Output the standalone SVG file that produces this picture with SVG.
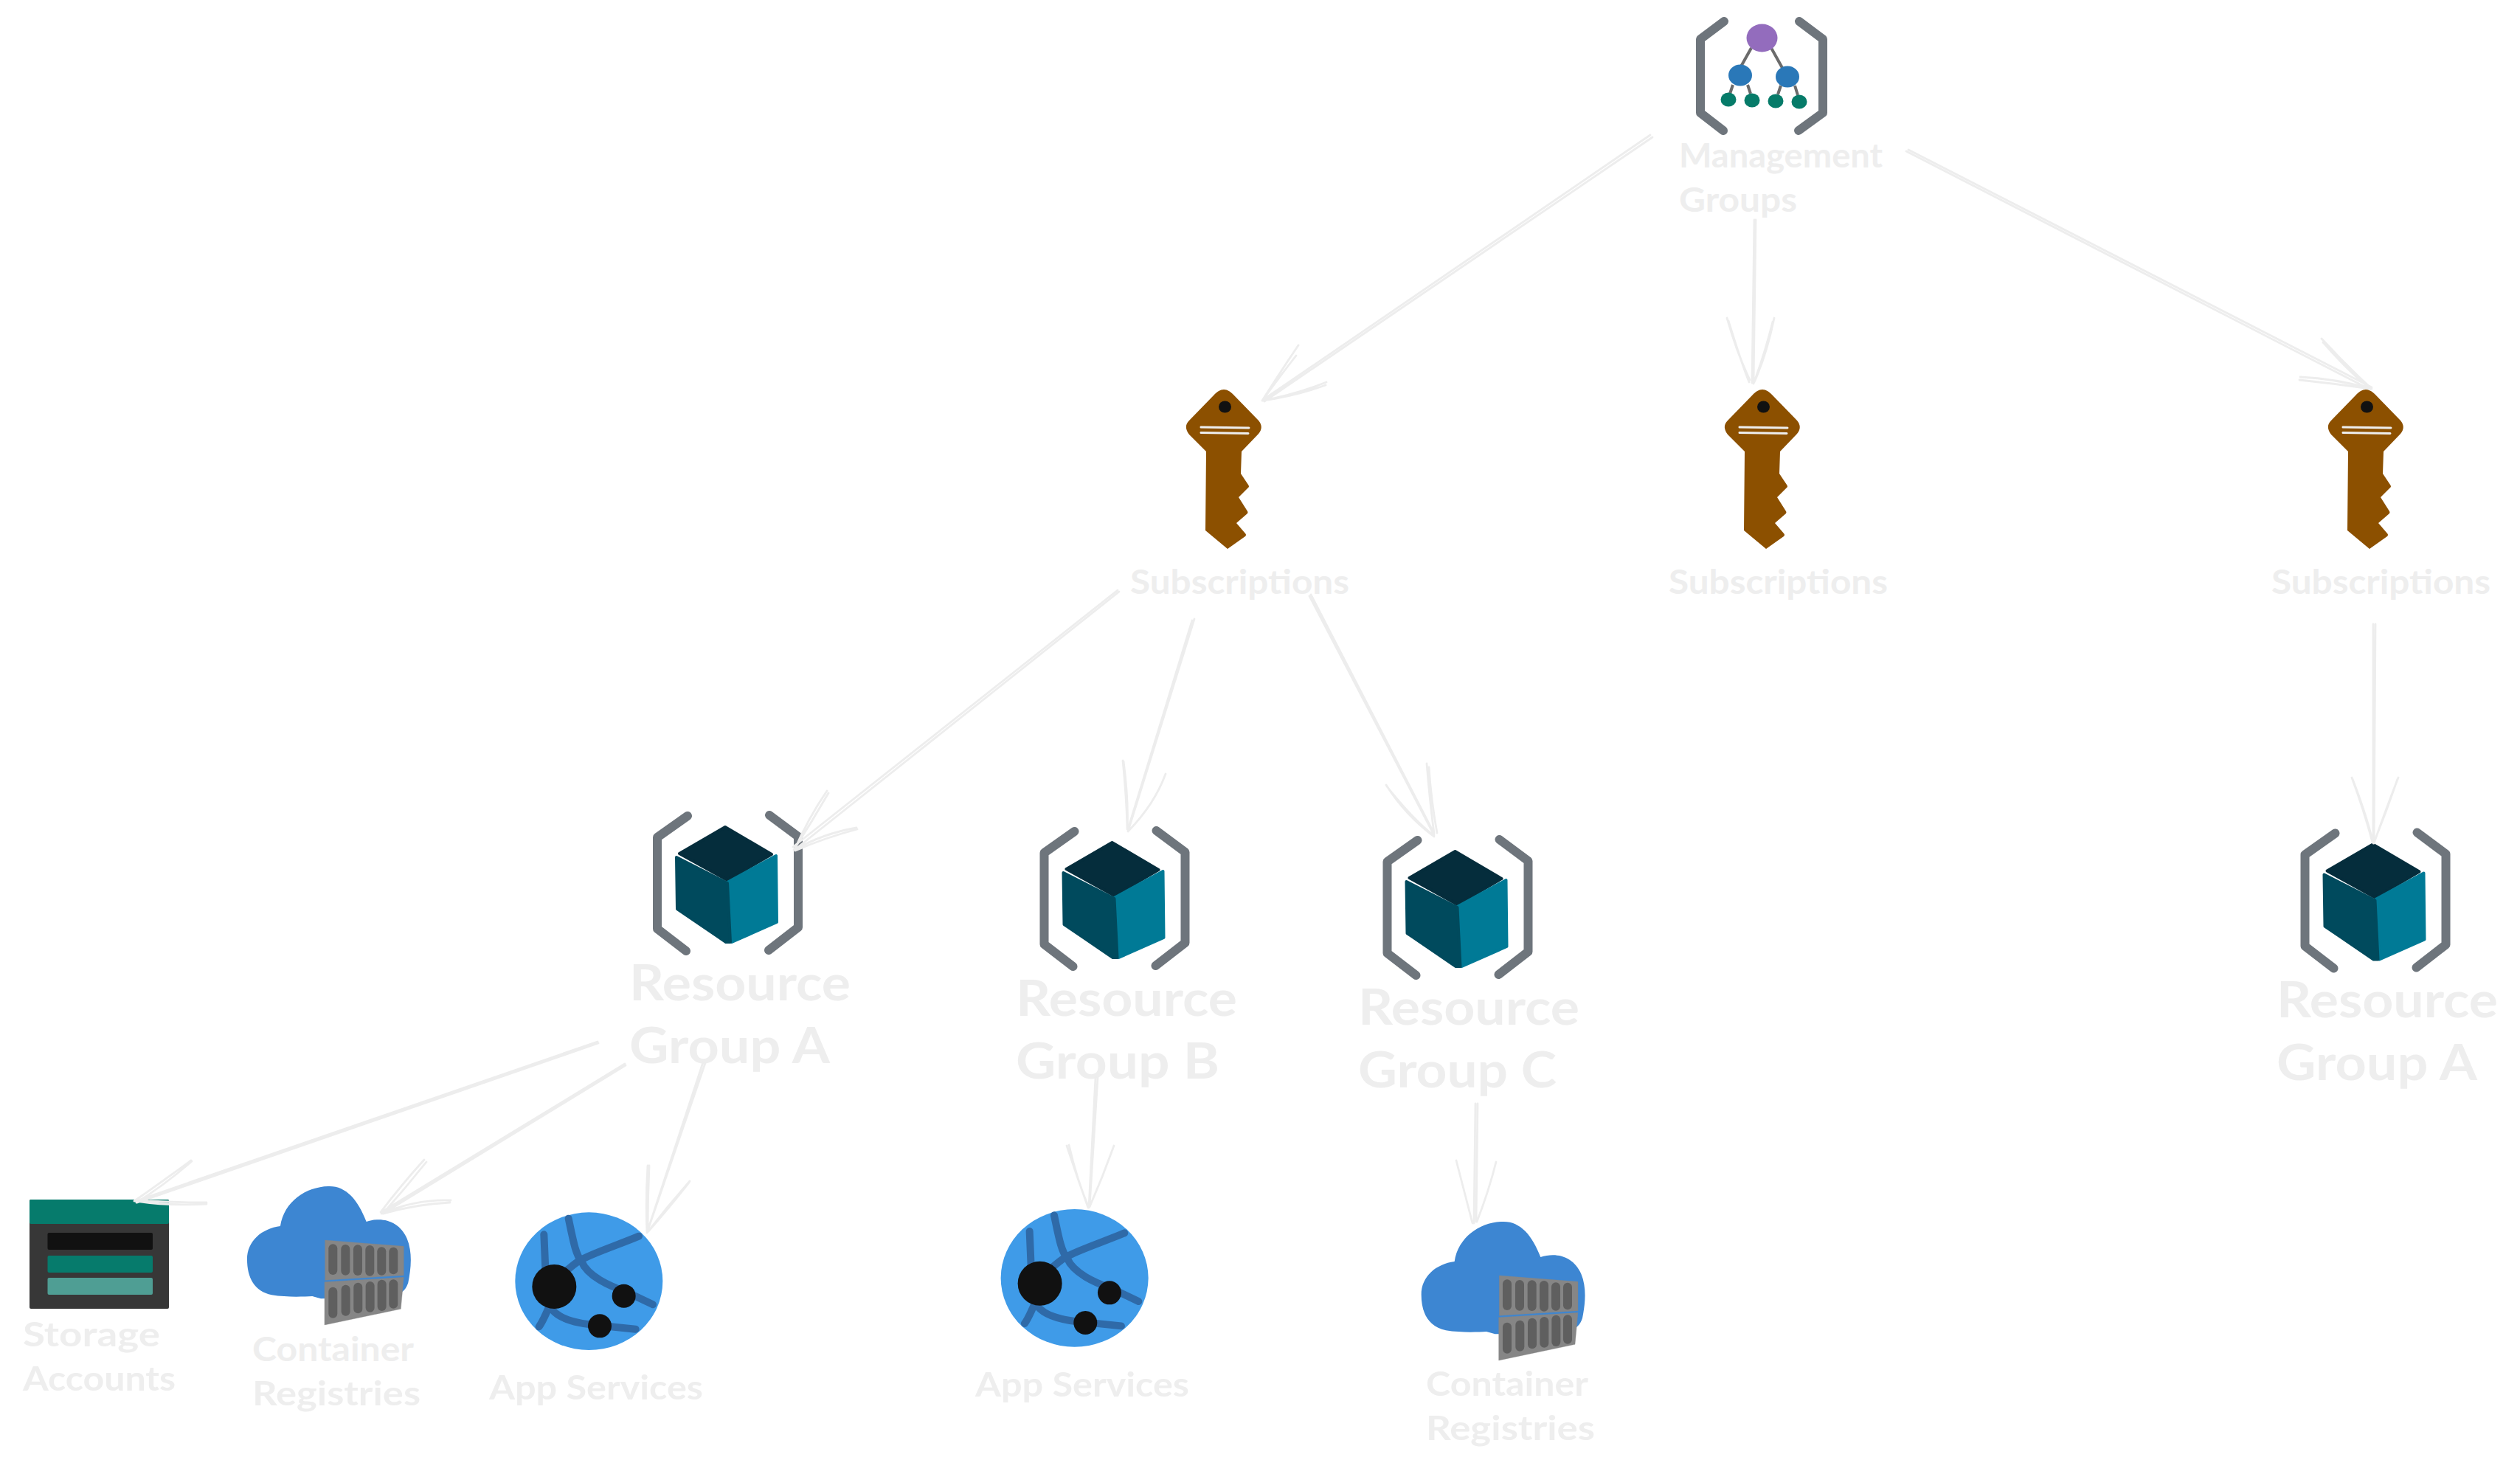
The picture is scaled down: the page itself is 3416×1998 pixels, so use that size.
<svg xmlns="http://www.w3.org/2000/svg" xmlns:xlink="http://www.w3.org/1999/xlink" width="3416" height="1998" viewBox="0 0 3416 1998">
<style>
.t{font-family:"Lato","Open Sans",sans-serif;fill:#eeeeee;font-size:46px;font-weight:700}
.b{font-size:66px}
.c{fill:none;stroke:#ededed;stroke-width:2.8;stroke-linecap:round;stroke-linejoin:round}
.br{fill:none;stroke:#6e757c;stroke-width:12;stroke-linecap:round;stroke-linejoin:round}
.srv{fill:#868686;stroke:#868686;stroke-width:1}
.pill{fill:#5f5f5f}
.road{fill:none;stroke:#2f6aa8;stroke-width:30;stroke-linecap:round;stroke-linejoin:round}
</style>
<defs>
<g id="key">
<path fill="#8c5000" d="M1659 528C1654 528 1650 531 1646 535L1612 570C1606 576 1607 582 1612 589L1635 612L1634 719L1664 744L1688 727Q1690 725 1688 723L1676 709L1691 696Q1692 694 1691 693L1679 674L1693 660Q1693 658 1692 657L1682 642L1683 612L1706 588C1711 582 1711 576 1706 570L1672 535C1668 531 1664 528 1659 528Z"/>
<ellipse cx="1660.5" cy="551.5" rx="8.5" ry="8" fill="#111"/>
<path d="M1628 579L1693 580M1628 586.5L1692 587.5" stroke="#eeeeee" stroke-width="3" fill="none" stroke-linecap="round"/>
</g>
<g id="rg">
<path class="br" d="M932 1106L891 1135V1259L930 1289"/>
<path class="br" d="M1043 1105L1082 1134V1257L1042 1288"/>
<path d="M983 1121L1046 1158L986 1193L921 1157Z" fill="#052d3c" stroke="#052d3c" stroke-width="4" stroke-linejoin="round"/>
<path d="M986 1196L1052 1160L1053 1250L992 1277Z" fill="#007a96" stroke="#007a96" stroke-width="4" stroke-linejoin="round"/>
<path d="M917 1162L986 1197L990 1277L984 1277L918 1232Z" fill="#004a5d" stroke="#004a5d" stroke-width="4" stroke-linejoin="round"/>
</g>
<g id="cloud">
<path fill="#3d86d2" d="M275 210C290 110 380 50 470 48C540 45 590 100 625 192C690 170 760 190 790 260C815 320 805 390 795 440C785 470 770 490 700 500L440 505L405 495C370 497 300 500 240 490C170 475 140 420 140 345C140 270 200 220 275 210Z"/>
<path class="srv" d="M457 267L777 292V410L457 430Z"/>
<path class="srv" d="M455 437L777 418L765 547L455 612Z"/>
<g class="pill">
<rect x="471" y="283" width="36" height="125" rx="18"/><rect x="522" y="285" width="36" height="125" rx="18"/><rect x="572" y="286" width="36" height="125" rx="18"/><rect x="621" y="288" width="36" height="125" rx="18"/><rect x="669" y="295" width="36" height="115" rx="18"/><rect x="717" y="296" width="36" height="110" rx="18"/>
<rect x="471" y="458" width="36" height="126" rx="18"/><rect x="523" y="449" width="36" height="126" rx="18"/><rect x="573" y="440" width="36" height="125" rx="18"/><rect x="622" y="435" width="36" height="125" rx="18"/><rect x="670" y="428" width="36" height="127" rx="18"/><rect x="717" y="427" width="36" height="118" rx="18"/>
</g>
</g>
<g id="app">
<ellipse cx="475" cy="410" rx="300" ry="280" fill="#3f9be8"/>
<path class="road" d="M292 220L298 360M392 155C410 240 420 300 445 330C470 390 560 430 620 450L735 505M678 227C600 260 480 300 440 325C420 335 400 355 380 370M272 595C290 570 305 530 315 510M325 525C360 570 450 585 520 590L665 605"/>
<circle cx="334" cy="432" r="90" fill="#111"/><circle cx="617" cy="470" r="48" fill="#111"/><circle cx="519" cy="592" r="48" fill="#111"/>
</g>
</defs>
<rect width="3416" height="1998" fill="#ffffff"/>
<g id="mg">
<path class="br" d="M2337 29L2305 53V153L2336 177"/>
<path class="br" d="M2439 29L2471 53V153L2438 177"/>
<path d="M2374 65L2360 90M2401 65L2416 92M2349 115L2345 127M2369 115L2373 127M2414 116L2410 128M2433 116L2437 129" stroke="#6b6b6b" stroke-width="4" fill="none"/>
<ellipse cx="2388.5" cy="51.5" rx="21" ry="19" fill="#936cbd"/>
<ellipse cx="2359" cy="102" rx="16" ry="14.5" fill="#2a78b8"/>
<ellipse cx="2423" cy="104" rx="16" ry="14.5" fill="#2a78b8"/>
<ellipse cx="2343" cy="135" rx="10.500" ry="9.500" fill="#067b69"/>
<ellipse cx="2375" cy="136" rx="10.500" ry="9.500" fill="#067b69"/>
<ellipse cx="2407" cy="137" rx="10.500" ry="9.500" fill="#067b69"/>
<ellipse cx="2439" cy="138" rx="10.500" ry="9.500" fill="#067b69"/>
<text class="t" x="2276" y="227" textLength="276" lengthAdjust="spacingAndGlyphs">Management</text>
<text class="t" x="2276" y="287" textLength="160" lengthAdjust="spacingAndGlyphs">Groups</text>
</g>
<g id="sub1"><use xlink:href="#key" href="#key"/><text class="t" x="1532" y="805" textLength="297" lengthAdjust="spacingAndGlyphs">Subscriptions</text></g>
<g id="sub2"><use xlink:href="#key" href="#key" x="730"/><text class="t" x="2262" y="805" textLength="297" lengthAdjust="spacingAndGlyphs">Subscriptions</text></g>
<g id="sub3"><use xlink:href="#key" href="#key" x="1548"/><text class="t" x="3079" y="805" textLength="297" lengthAdjust="spacingAndGlyphs">Subscriptions</text></g>
<g id="rga"><use xlink:href="#rg" href="#rg"/><text class="t b" x="853" y="1356" textLength="300" lengthAdjust="spacingAndGlyphs">Resource</text><text class="t b" x="853" y="1441" textLength="272" lengthAdjust="spacingAndGlyphs">Group A</text></g>
<g id="rgb"><use xlink:href="#rg" href="#rg" x="524.500" y="21"/><text class="t b" x="1377" y="1377" textLength="300" lengthAdjust="spacingAndGlyphs">Resource</text><text class="t b" x="1377" y="1462" textLength="276" lengthAdjust="spacingAndGlyphs">Group B</text></g>
<g id="rgc"><use xlink:href="#rg" href="#rg" x="989.500" y="33"/><text class="t b" x="1841" y="1389" textLength="300" lengthAdjust="spacingAndGlyphs">Resource</text><text class="t b" x="1841" y="1474" textLength="269" lengthAdjust="spacingAndGlyphs">Group C</text></g>
<g id="rga2"><use xlink:href="#rg" href="#rg" x="2233.500" y="23.500"/><text class="t b" x="3086" y="1379" textLength="300" lengthAdjust="spacingAndGlyphs">Resource</text><text class="t b" x="3086" y="1464" textLength="272" lengthAdjust="spacingAndGlyphs">Group A</text></g>
<g id="storage">
<rect x="40" y="1626" width="189" height="148" rx="2" fill="#373737"/>
<rect x="40" y="1626" width="189" height="33" rx="2" fill="#067b6c"/>
<rect x="64.500" y="1671" width="142.500" height="23" rx="2" fill="#111111"/>
<rect x="64.500" y="1702" width="142.500" height="23" rx="2" fill="#067b6c"/>
<rect x="64.500" y="1732" width="142.500" height="23" rx="2" fill="#4f9e94"/>
<text class="t" x="31" y="1825" textLength="186" lengthAdjust="spacingAndGlyphs">Storage</text>
<text class="t" x="31" y="1885" textLength="207" lengthAdjust="spacingAndGlyphs">Accounts</text>
</g>
<g id="acr1">
<use xlink:href="#cloud" href="#cloud" transform="translate(288.300 1592) scale(.33333)"/>
<text class="t" x="342" y="1845" textLength="219" lengthAdjust="spacingAndGlyphs">Container</text>
<text class="t" x="342" y="1905" textLength="228" lengthAdjust="spacingAndGlyphs">Registries</text>
</g>
<g id="app1">
<use xlink:href="#app" href="#app" transform="translate(640 1600) scale(.33333)"/>
<text class="t" x="663" y="1897" textLength="290" lengthAdjust="spacingAndGlyphs">App Services</text>
</g>
<g id="app2">
<use xlink:href="#app" href="#app" transform="translate(1298.300 1595.700) scale(.33333)"/>
<text class="t" x="1322" y="1893" textLength="290" lengthAdjust="spacingAndGlyphs">App Services</text>
</g>
<g id="acr2">
<use xlink:href="#cloud" href="#cloud" transform="translate(1880 1640) scale(.33333)"/>
<text class="t" x="1933" y="1892" textLength="220" lengthAdjust="spacingAndGlyphs">Container</text>
<text class="t" x="1933" y="1952" textLength="229" lengthAdjust="spacingAndGlyphs">Registries</text>
</g>
<g id="connectors">
<path class="c" d="M2237 183L1712 542M2240 186L1714 544M1760 468Q1735 505 1711 543M1757 482Q1735 510 1711 543M1798 518Q1755 535 1711 543M1797 522Q1755 537 1711 543"/>
<path class="c" d="M2378 298L2375 519M2380 298L2377 520M2341 431Q2355 480 2372 515M2343 435Q2360 490 2371 518M2405 431Q2395 480 2378 518M2403 436Q2392 480 2377 520"/>
<path class="c" d="M2584 205L3213 528M2587 203L3215 525M3147 459Q3180 495 3215 527M3149 464Q3185 505 3213 527M3117 515Q3165 520 3214 527M3118 511Q3165 513 3214 527"/>
<path class="c" d="M1517 802L1077 1152M1515 800L1075 1148M1121 1072Q1095 1110 1077 1152M1123 1075Q1100 1115 1076 1152M1161 1122Q1115 1130 1077 1152M1162 1124Q1120 1135 1078 1153"/>
<path class="c" d="M1619 839L1529 1127M1616 841L1529 1124M1522 1031Q1527 1080 1528 1122M1523 1032Q1530 1085 1528 1124M1580 1049Q1565 1090 1530 1126"/>
<path class="c" d="M1775 808L1944 1132M1777 806L1942 1126M1879 1064Q1905 1105 1944 1134M1880 1066Q1915 1110 1943 1132M1934 1035Q1938 1085 1944 1130M1937 1040Q1940 1085 1948 1129"/>
<path class="c" d="M3217 846L3217 1143M3220 846L3218 1143M3188 1054Q3205 1100 3216 1142M3189 1056Q3208 1105 3217 1143M3251 1054Q3235 1095 3218 1143M3250 1056Q3235 1100 3218 1142"/>
<path class="c" d="M810 1412L184 1628M811 1414L186 1630M259 1573Q215 1605 182 1628M260 1574Q225 1605 185 1630M280 1632Q230 1635 184 1628M280 1630Q230 1630 184 1627"/>
<path class="c" d="M847 1442L517 1643M848 1444L519 1645M575 1572Q545 1605 516 1643M578 1575Q550 1610 519 1645M611 1627Q565 1625 517 1645M610 1630Q565 1632 520 1645"/>
<path class="c" d="M953 1440L877 1671M956 1441L878 1668M878 1580Q875 1625 877 1671M880 1580Q878 1625 878 1668M935 1601Q905 1635 877 1671M934 1603Q905 1640 879 1669"/>
<path class="c" d="M1485 1460L1476 1637M1488 1461L1477 1635M1446 1553Q1460 1595 1475 1637M1449 1552Q1460 1600 1476 1637M1510 1553Q1495 1595 1477 1636"/>
<path class="c" d="M2000 1496L1998 1658M2003 1496L2001 1656M1974 1573Q1985 1615 1996 1658M2028 1575Q2018 1615 2002 1656"/>
</g>
</svg>
